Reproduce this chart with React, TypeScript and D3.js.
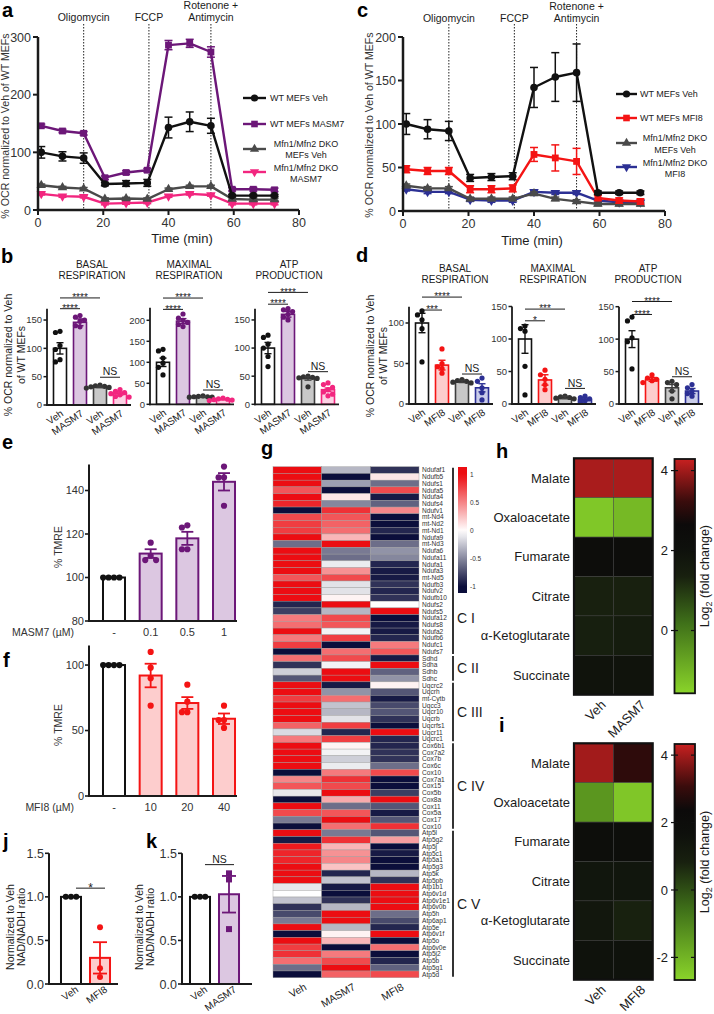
import React from 'react';
import * as d3 from 'd3';

const FONT = "'Liberation Sans', Arial, Helvetica, sans-serif";
const INK = '#1b1b1b';

const BLACK = '#111111';
const PURPLE = '#6c1778';
const PURPLE_FILL = '#dcc7e1';
const PINK = '#f2267f';
const PINK_FILL = '#fcd2e4';
const DGRAY = '#3e3e3e';
const GRAY_FILL = '#c8c8c8';
const RED = '#f41414';
const RED_FILL = '#fdcdcd';
const BLUE = '#2c3094';
const BLUE_FILL = '#cacdea';

/* ---------------- a / c : OCR time courses ---------------- */
const TIMES = [1, 7.5, 14, 20.5, 27, 33.5, 40, 46.5, 53, 59.5, 66, 72.5];
const INJECTIONS = [14, 34, 53];
const INJECTION_LABELS = [['Oligomycin'], ['FCCP'], ['Rotenone +', 'Antimycin']];
const TIME_TICKS = [0, 20, 40, 60, 80];

const A_WT_VEH = [100, 93, 90, 45, 46, 47, 143, 153, 146, 25, 25, 25];
const A_WT_VEH_ERR = [10, 8, 9, 3, 5, 6, 18, 17, 13, 2, 2, 2];
const A_WT_MASM7 = [146, 137, 133, 56, 65, 69, 286, 289, 274, 36, 36, 35];
const A_WT_MASM7_ERR = [3, 3, 3, 3, 3, 3, 8, 7, 9, 3, 3, 3];
const A_DKO_VEH = [43, 39, 37, 19, 20, 19, 36, 41, 41, 19, 18, 18];
const A_DKO_VEH_ERR = [2, 2, 2, 2, 2, 2, 2, 2, 2, 2, 2, 2];
const A_DKO_MASM7 = [28, 24, 23, 11, 12, 13, 24, 28, 26, 11, 11, 11];
const A_DKO_MASM7_ERR = [2, 2, 2, 2, 2, 2, 2, 2, 2, 2, 2, 2];
const A_Y_TICKS = [0, 100, 200, 300];
const A_LEGEND = [['WT MEFs Veh'], ['WT MEFs MASM7'], ['Mfn1/Mfn2 DKO', 'MEFs Veh'], ['Mfn1/Mfn2 DKO', 'MASM7']];

const C_WT_VEH = [100, 94, 92, 38, 39, 40, 142, 154, 159, 21, 21, 21];
const C_WT_VEH_ERR = [12, 11, 11, 4, 4, 4, 23, 28, 33, 2, 2, 2];
const C_WT_MFI8 = [48, 46, 46, 25, 25, 26, 65, 61, 57, 15, 12, 11];
const C_WT_MFI8_ERR = [4, 4, 4, 4, 4, 4, 8, 15, 15, 3, 3, 3];
const C_DKO_VEH = [29, 26, 26, 14, 14, 14, 20, 14, 11, 8, 8, 8];
const C_DKO_VEH_ERR = [2, 2, 2, 2, 2, 2, 2, 2, 2, 2, 2, 2];
const C_DKO_MFI8 = [25, 22, 22, 13, 12, 12, 22, 21, 21, 12, 10, 10];
const C_DKO_MFI8_ERR = [2, 2, 2, 2, 2, 2, 2, 2, 2, 2, 2, 2];
const C_Y_TICKS = [0, 50, 100, 150, 200];
const C_LEGEND = [['WT MEFs Veh'], ['WT MEFs MFI8'], ['Mfn1/Mfn2 DKO', 'MEFs Veh'], ['Mfn1/Mfn2 DKO', 'MFI8']];

/* ---------------- b / d : respiration bars ---------------- */
const MASM7_GROUPS = ['Veh', 'MASM7', 'Veh', 'MASM7'];
const MFI8_GROUPS = ['Veh', 'MFI8', 'Veh', 'MFI8'];
const RESP_TITLES = [['BASAL', 'RESPIRATION'], ['MAXIMAL', 'RESPIRATION'], ['ATP', 'PRODUCTION']];

const B_BASAL_MEAN = [100, 146, 32, 20];
const B_BASAL_SEM = [10, 6, 1.5, 2.5];
const B_BASAL_DOTS = [[130, 128, 105, 98, 80, 76], [158, 155, 150, 148, 140, 138], [35, 34, 33, 32, 31, 30], [27, 24, 22, 20, 18, 15, 14]];
const B_MAX_MEAN = [100, 198, 18, 12];
const B_MAX_SEM = [10, 6, 1, 1.5];
const B_MAX_DOTS = [[131, 127, 110, 98, 88, 70], [215, 205, 200, 195, 190, 185], [20, 19, 18, 18, 17, 17], [15, 13, 12, 11, 10, 9]];
const B_ATP_MEAN = [100, 160, 46, 26];
const B_ATP_SEM = [10, 5, 3, 3];
const B_ATP_DOTS = [[123, 119, 107, 100, 85, 67], [170, 168, 165, 160, 155, 150], [50, 49, 48, 47, 46, 31], [38, 35, 30, 26, 22, 18, 15]];
const B_BASAL_SIG = [{ a: 0, b: 1, h: 170, t: '****' }, { a: 0, b: 2, h: 189, t: '****' }, { a: 2, b: 3, h: 49, t: 'NS' }];
const B_MAX_SIG = [{ a: 0, b: 1, h: 226, t: '****' }, { a: 0, b: 2, h: 253, t: '****' }, { a: 2, b: 3, h: 34, t: 'NS' }];
const B_ATP_SIG = [{ a: 0, b: 1, h: 178, t: '****' }, { a: 0, b: 2, h: 199, t: '****' }, { a: 2, b: 3, h: 58, t: 'NS' }];

const D_BASAL_MEAN = [100, 48, 28, 20];
const D_BASAL_SEM = [12, 6, 1.5, 5];
const D_BASAL_DOTS = [[115, 110, 104, 93, 52], [68, 50, 46, 44, 38], [30, 29, 28, 27, 26], [32, 28, 20, 14, 5]];
const D_MAX_MEAN = [100, 37, 10, 7];
const D_MAX_SEM = [22, 8, 2, 2];
const D_MAX_DOTS = [[120, 116, 112, 58, 14], [52, 45, 38, 30, 22], [12, 11, 10, 9, 8], [12, 10, 8, 5, 3]];
const D_ATP_MEAN = [100, 38, 25, 20];
const D_ATP_SEM = [13, 3, 5, 4];
const D_ATP_DOTS = [[134, 128, 102, 96, 54], [45, 40, 38, 36, 33], [35, 33, 30, 20, 8], [30, 25, 20, 16, 12]];
const D_BASAL_SIG = [{ a: 0, b: 1, h: 116, t: '***' }, { a: 0, b: 2, h: 132, t: '****' }, { a: 2, b: 3, h: 37, t: 'NS' }];
const D_MAX_SIG = [{ a: 0, b: 1, h: 128, t: '*' }, { a: 0, b: 2, h: 146, t: '***' }, { a: 2, b: 3, h: 24, t: 'NS' }];
const D_ATP_SIG = [{ a: 0, b: 1, h: 138, t: '****' }, { a: 0, b: 2, h: 158, t: '****' }, { a: 2, b: 3, h: 42, t: 'NS' }];

/* ---------------- e / f : TMRE ---------------- */
const E_DOSES = ['-', '0.1', '0.5', '1'];
const E_MEAN = [100, 111, 118, 144];
const E_SEM = [0, 2, 3, 4];
const E_DOTS = [[100, 100, 100, 100], [116, 110, 108, 108], [124, 123, 113, 113], [151, 146, 146, 133]];
const E_TICKS = [80, 100, 120, 140];
const F_DOSES = ['-', '10', '20', '40'];
const F_MEAN = [100, 92, 71, 59];
const F_SEM = [0, 9, 4.5, 4];
const F_DOTS = [[100, 100, 100, 100], [110, 98, 90, 69], [85, 72, 64, 64], [69, 58, 58, 52]];
const F_TICKS = [0, 50, 100];

/* ---------------- j / k : NAD/NADH ---------------- */
const J_GROUPS = ['Veh', 'MFI8'];
const J_MEAN = [1.0, 0.3];
const J_SEM = [0, 0.18];
const J_DOTS = [[1, 1, 1], [0.65, 0.18, 0.08]];
const K_GROUPS = ['Veh', 'MASM7'];
const K_MEAN = [1.0, 1.03];
const K_SEM = [0, 0.21];
const K_DOTS = [[1, 1, 1], [1.27, 1.2, 0.63]];
const NAD_TICKS = [0, 0.5, 1.0, 1.5];

/* ---------------- g : gene heatmap ---------------- */
const HEAT_COLS = ['Veh', 'MASM7', 'MFI8'];
const GENES = ['Ndufaf1', 'Ndufb5', 'Ndufs1', 'Ndufa5', 'Ndufa4', 'Ndufs4', 'Ndufv1', 'mt-Nd4', 'mt-Nd2', 'mt-Nd1', 'Ndufa9', 'mt-Nd3', 'Ndufa6', 'Ndufa11', 'Ndufa1', 'Ndufa3', 'mt-Nd5', 'Ndufb3', 'Ndufv2', 'Ndufb10', 'Ndufs2', 'Ndufs5', 'Ndufa12', 'Ndufs8', 'Ndufa2', 'Ndufb6', 'Ndufc1', 'Ndufs7',
  'Sdhd', 'Sdha', 'Sdhb', 'Sdhc',
  'Uqcrc2', 'Uqcrh', 'mt-Cytb', 'Uqcc3', 'Uqcr10', 'Uqcrb', 'Uqcrfs1', 'Uqcr11', 'Uqcrc1',
  'Cox6b1', 'Cox7a2', 'Cox7b', 'Cox6c', 'Cox10', 'Cox7a1', 'Cox15', 'Cox5b', 'Cox8a', 'Cox11', 'Cox5a', 'Cox17', 'Cox10',
  'Atp5l', 'Atp5g2', 'Atp5j', 'Atp5c1', 'Atp5a1', 'Atp5g3', 'Atp5k', 'Atp5pb', 'Atp1b1', 'Atp6v1d', 'Atp6v1e1', 'Atp6v0b', 'Atp5h', 'Atp6ap1', 'Atp5e', 'Atp6v1f', 'Atp5o', 'Atp6v0e', 'Atp5j2', 'Atp5b', 'Atp5g1', 'Atp5d'];
const COMPLEX_NAMES = ['C I', 'C II', 'C III', 'C IV', 'C V'];
const COMPLEX_SIZES = [28, 4, 9, 13, 22];
const HEAT_VEH = [1, 1, 1, 0.7, 1, 0.9, -1, 0.75, 0.8, 0.8, 1, -0.6, 1,
  1, 1, 1, 0.7, 1, 1, 1, -0.9, -0.8, 0.55, 0.6, 1, 0.55, 0.8, -1, 0.6, -0.85, -0.2, -0.7, 1, 1, 0.8, 1, 1, 1, 0.65, -0.15, 0.55, 1, 1, 1, 1, -1, 0.5,
  0.7, -0.1, -1, 1, 0.75, -0.55, -1, 1, -0.95, 0.95, 0.9, 0.9, 1, 1, 1, -0.1, 0, -0.25, -0.85, -0.75, -0.55, 1, -1, 1, 0.8, 0.85, 0.6, -0.6, -1];
const HEAT_MASM7 = [-0.3, -1, -0.4, -1, 0.1, -0.5, 0.85, 0.7, 0.65, 0.6, 0.3, 1, -0.55,
  -0.6, -0.08, 0.45, 0.75, -0.12, -0.12, 0.05, 1, -0.3, 0.75, 0.7, -0.05, 0.8, -1, 0.6, 0.75, -0.05, 1, 1, -0.95, -0.45, 0.6, -0.25, -0.3, -0.12, 0.8, -0.9, 0.8, 0.05, -0.05, -0.2, -0.08, 0.55, 0.85,
  0.75, 1, 0.35, -0.6, 0.7, 1, 0.6, -0.55, 0.85, 0.3, 0.45, 0.5, 0.25, -0.9, -0.25, -0.95, -1, -0.85, -0.3, 1, 1, -0.3, 0.05, 0.3, -1, 0.55, 0.75, 1, 0.65];
const HEAT_MFI8 = [-0.85, 0.1, -0.6, 0.75, -0.95, -0.65, 0.5, -1, -1, -0.9, -1, -0.6, -0.45,
  -0.5, -0.9, -0.95, -0.95, -0.85, -0.9, -0.85, 0, 1, -1, -0.95, -0.95, -0.9, 0.55, 0.7, -0.95, 1, -0.65, -0.45, 0.05, -0.7, -0.95, -0.75, -0.7, -0.85, -1, 1, -0.9, -0.9, -0.85, -0.85, -0.6, 0.75, -1,
  -1, -0.8, 1, -0.7, -0.95, -0.7, 0.85, -0.7, 0.4, -1, -0.95, -1, -1, -0.3, -0.85, 1, 1, 1, 1, -0.6, -0.75, -0.9, 1, -1, 0.6, -1, -0.9, -0.65, 0.75];
const G_TICKS = [1, 0.5, 0, -0.5, -1];

/* ---------------- h / i : metabolites (log2 fold change) ---------------- */
const METABOLITES = ['Malate', 'Oxaloacetate', 'Fumarate', 'Citrate', 'α-Ketoglutarate', 'Succinate'];
const H_COLS = ['Veh', 'MASM7'];
const H_VEH = [4.06, -1.34, 2.4, 1.36, 1.42, 1.95];
const H_MASM7 = [4.06, -1.1, 2.4, 1.36, 1.54, 1.95];
const I_COLS = ['Veh', 'MFI8'];
const I_VEH = [3.99, -1.36, 1.87, 1.38, 1.3, 1.59];
const I_MFI8 = [2.89, -2.38, 1.87, 1.38, 0.82, 1.59];
const H_TICKS = [0, 2, 4];
const I_TICKS = [-2, 0, 2, 4];
const METAB_T = [0, 0.3, 0.5, 0.62, 0.72, 0.82, 1];
const METAB_C = ['#8ad42a', '#3f7019', '#18200f', '#0e100c', '#0c0a0a', '#3a0c0c', '#c82020'];

/* ================= helpers ================= */
function Marker({ shape, x, y, color, s }: any) {
  if (shape === 'circle') return <circle cx={x} cy={y} r={s} fill={color} />;
  if (shape === 'square') return <rect x={x - s} y={y - s} width={2 * s} height={2 * s} fill={color} />;
  const p = d3.symbol().type(d3.symbolTriangle).size(s * s * 3.4)() as string;
  return <path d={p} transform={`translate(${x},${y}) rotate(${shape === 'triDown' ? 180 : 0})`} fill={color} />;
}

function ErrBar({ x, v, e, y, w, color, sw }: any) {
  if (!e) return null;
  const t = y(v + e), b = y(v - e);
  return (
    <g stroke={color} strokeWidth={sw}>
      <line x1={x} x2={x} y1={t} y2={b} />
      <line x1={x - w / 2} x2={x + w / 2} y1={t} y2={t} />
      <line x1={x - w / 2} x2={x + w / 2} y1={b} y2={b} />
    </g>
  );
}

function swarm(py: number[], r: number): number[] {
  const placed: [number, number][] = [];
  const step = r * 1.75;
  const cands = [0];
  for (let k = 1; k < 10; k++) cands.push(-k * step, k * step);
  return py.map((yy) => {
    for (const c of cands) {
      if (placed.every(([px, pyy]) => Math.hypot(px - c, pyy - yy) >= step)) {
        placed.push([c, yy]);
        return c;
      }
    }
    return 0;
  });
}

function RotLabel({ x, y, lines, size, gap, anchor = 'middle' }: any) {
  return (
    <g>
      {lines.map((l: string, i: number) => (
        <text key={i} transform={`translate(${x + i * gap},${y}) rotate(-90)`} textAnchor={anchor} fontSize={size} fill={INK}>{l}</text>
      ))}
    </g>
  );
}

/* ================= a / c ================= */
function OcrPanel({ P, series }: any) {
  const x = d3.scaleLinear().domain([0, 80]).range([P.x0, P.x1]);
  const y = d3.scaleLinear().domain([0, P.yMax]).range([P.y0, P.yTop]);
  const line = d3.line<number>().x((_, i) => x(TIMES[i])).y((v) => y(v));
  const y0 = y(0);
  return (
    <g>
      {INJECTIONS.map((t, i) => (
        <g key={i}>
          <line x1={x(t)} x2={x(t)} y1={24} y2={y0} stroke="#222" strokeWidth={1} strokeDasharray="1.5,1.5" />
          {INJECTION_LABELS[i].map((s, j, arr) => (
            <text key={j} x={x(t)} y={P.labelBase - (arr.length - 1 - j) * 12} textAnchor="middle" fontSize={10.5} fill={INK}>{s}</text>
          ))}
        </g>
      ))}
      {[...series].reverse().map((s: any, k: number) => (
        <g key={k}>
          <path d={line(s.values) as string} fill="none" stroke={s.color} strokeWidth={2.4} strokeLinejoin="round" />
          {s.values.map((v: number, i: number) => (
            <ErrBar key={i} x={x(TIMES[i])} v={v} e={s.errs[i]} y={y} w={8} color={s.color} sw={1.5} />
          ))}
          {s.values.map((v: number, i: number) => (
            <Marker key={'m' + i} shape={s.shape} x={x(TIMES[i])} y={y(v)} color={s.color} s={s.shape === 'circle' ? 3.8 : 3.4} />
          ))}
        </g>
      ))}
      {/* axes */}
      <line x1={x(0)} x2={x(0)} y1={y0 + 1.2} y2={y(P.yMax)} stroke={INK} strokeWidth={2.5} />
      <line x1={x(0) - 1.2} x2={x(80)} y1={y0} y2={y0} stroke={INK} strokeWidth={2.5} />
      {P.yTicks.map((t: number) => (
        <g key={t}>
          <line x1={x(0) - 5} x2={x(0)} y1={y(t)} y2={y(t)} stroke={INK} strokeWidth={2} />
          <text x={x(0) - 7} y={y(t)} dy="0.36em" textAnchor="end" fontSize={12.5} fill="#333">{t}</text>
        </g>
      ))}
      {TIME_TICKS.map((t) => (
        <g key={t}>
          <line x1={x(t)} x2={x(t)} y1={y0} y2={y0 + 5} stroke={INK} strokeWidth={2} />
          <text x={x(t)} y={y0 + 16.5} textAnchor="middle" fontSize={12.5} fill="#333">{t}</text>
        </g>
      ))}
      <text x={P.timeX} y={P.timeY} textAnchor="middle" fontSize={13} fill={INK}>Time (min)</text>
      <text transform={`translate(${P.ylabX},${P.ylabY}) rotate(-90)`} textAnchor="middle" fontSize={10.6} fill="#333">% OCR normalized to Veh of WT MEFs</text>
      {/* legend */}
      {series.map((s: any, k: number) => (
        <g key={'l' + k}>
          <line x1={P.lx0} x2={P.lx1} y1={P.lys[k]} y2={P.lys[k]} stroke={s.color} strokeWidth={2.4} />
          <Marker shape={s.shape} x={(P.lx0 + P.lx1) / 2} y={P.lys[k]} color={s.color} s={s.shape === 'circle' ? 3.6 : 3.3} />
          {s.legend.length === 1 ? (
            <text x={P.ltx} y={P.lys[k]} dy="0.35em" fontSize={9} fill={INK}>{s.legend[0]}</text>
          ) : (
            s.legend.map((tx: string, j: number) => (
              <text key={j} x={P.lcx} y={P.ltys[k][j]} dy="0.35em" textAnchor="middle" fontSize={9} fill={INK}>{tx}</text>
            ))
          )}
        </g>
      ))}
    </g>
  );
}

/* ================= b / d ================= */
function BarSub({ L, means, sems, dots, groups, sigs, styles, title }: any) {
  const y = d3.scaleLinear().domain([0, L.yTop]).range([L.y0, L.yTopPx]);
  const xb = d3.scaleBand<number>().domain(d3.range(means.length)).range([L.axisX + 3, L.axisX + 83]).paddingInner(0.35).paddingOuter(0.175);
  const cx = (i: number) => (xb(i) as number) + xb.bandwidth() / 2;
  const r = 2.6;
  return (
    <g>
      {title.map((t: string, i: number) => (
        <text key={i} x={L.titleX} y={L.titleY + i * 11.5} textAnchor="middle" fontSize={10} fill={INK}>{t}</text>
      ))}
      {means.map((m: number, i: number) => (
        <rect key={i} x={xb(i)} y={y(m)} width={xb.bandwidth()} height={L.y0 - y(m)} fill={styles[i].fill} stroke={styles[i].stroke} strokeWidth={1.6} />
      ))}
      {dots.map((ds: number[], i: number) => {
        const offs = swarm(ds.map((d) => y(d)), r);
        return ds.map((d, j) => <circle key={i + '-' + j} cx={cx(i) + offs[j]} cy={y(d)} r={r} fill={styles[i].dot} />);
      })}
      {means.map((m: number, i: number) => (
        <ErrBar key={'e' + i} x={cx(i)} v={m} e={sems[i]} y={y} w={7} color={styles[i].stroke} sw={1.4} />
      ))}
      <line x1={L.axisX} x2={L.axisX} y1={L.y0 + 0.9} y2={L.yTopPx} stroke={INK} strokeWidth={1.8} />
      <line x1={L.axisX - 0.9} x2={L.axisX + 84} y1={L.y0} y2={L.y0} stroke={INK} strokeWidth={1.8} />
      {L.ticks.map((t: number) => (
        <g key={t}>
          <line x1={L.axisX - 3.5} x2={L.axisX} y1={y(t)} y2={y(t)} stroke={INK} strokeWidth={1.5} />
          <text x={L.axisX - 5} y={y(t)} dy="0.36em" textAnchor="end" fontSize={9.5} fill="#333">{t}</text>
        </g>
      ))}
      {groups.map((g: string, i: number) => (
        <text key={'g' + i} transform={`translate(${cx(i) + 4},${L.y0 + 10}) rotate(-35)`} textAnchor="end" fontSize={10} fill={INK}>{g}</text>
      ))}
      {sigs.map((s: any, i: number) => {
        const ly = y(s.h);
        const xa = cx(s.a), xc = cx(s.b);
        return (
          <g key={'s' + i}>
            <line x1={xa} x2={xc} y1={ly} y2={ly} stroke={INK} strokeWidth={1} />
            <text x={(xa + xc) / 2} y={s.t === 'NS' ? ly - 1.8 : ly + 3.2} textAnchor="middle" fontSize={s.t === 'NS' ? 10.5 : 10} fill={INK}>{s.t}</text>
          </g>
        );
      })}
    </g>
  );
}

/* ================= e / f ================= */
function DosePanel({ L, means, sems, dots, doses, ticks, color, fill, title }: any) {
  const y = d3.scaleLinear().domain([L.yMin, L.yTop]).range([L.y0, L.yTopPx]);
  const xb = d3.scaleBand<number>().domain(d3.range(means.length)).range([L.axisX + 2, L.axisX + 158]).paddingInner(0.4).paddingOuter(0.327);
  const cx = (i: number) => (xb(i) as number) + xb.bandwidth() / 2;
  const r = 3.1;
  const st = (i: number) => (i === 0 ? BLACK : color);
  return (
    <g>
      {means.map((m: number, i: number) => (
        <rect key={i} x={xb(i)} y={y(m)} width={xb.bandwidth()} height={L.y0 - y(m)} fill={i === 0 ? '#fff' : fill} stroke={st(i)} strokeWidth={2} />
      ))}
      {dots.map((ds: number[], i: number) => {
        const offs = swarm(ds.map((d) => y(d)), r);
        return ds.map((d, j) => <circle key={i + '-' + j} cx={cx(i) + offs[j]} cy={y(d)} r={r} fill={st(i)} />);
      })}
      {means.map((m: number, i: number) => (
        <ErrBar key={'e' + i} x={cx(i)} v={m} e={sems[i]} y={y} w={12} color={st(i)} sw={1.8} />
      ))}
      <line x1={L.axisX} x2={L.axisX} y1={L.y0 + 1} y2={L.yTopPx} stroke={INK} strokeWidth={2} />
      <line x1={L.axisX - 1} x2={L.xEnd} y1={L.y0} y2={L.y0} stroke={INK} strokeWidth={2} />
      {ticks.map((t: number) => (
        <g key={t}>
          <line x1={L.axisX - 4} x2={L.axisX} y1={y(t)} y2={y(t)} stroke={INK} strokeWidth={1.6} />
          <text x={L.axisX - 5} y={y(t)} dy="0.36em" textAnchor="end" fontSize={11} fill="#333">{t}</text>
        </g>
      ))}
      {doses.map((d: string, i: number) => (
        <text key={'d' + i} x={cx(i)} y={L.labY} textAnchor="middle" fontSize={11} fill="#333">{d}</text>
      ))}
      <text x={74} y={L.labY} textAnchor="end" fontSize={10.5} fill="#333">{title}</text>
      <text transform={`translate(62,${L.ylabY}) rotate(-90)`} textAnchor="middle" fontSize={10.5} fill="#333">% TMRE</text>
    </g>
  );
}

/* ================= j / k ================= */
function NadPanel({ L, means, sems, dots, groups, color, fill, shape, sig }: any) {
  const y = d3.scaleLinear().domain([0, 1.5]).range([L.y0, L.yTopPx]);
  const xb = d3.scaleBand<number>().domain(d3.range(means.length)).range([L.axisX + L.b0, L.axisX + L.b0 + 67]).paddingInner(0.31).paddingOuter(0.31);
  const cx = (i: number) => (xb(i) as number) + xb.bandwidth() / 2;
  const st = (i: number) => (i === 0 ? BLACK : color);
  const r = 3;
  return (
    <g>
      {means.map((m: number, i: number) => (
        <rect key={i} x={xb(i)} y={y(m)} width={xb.bandwidth()} height={L.y0 - y(m)} fill={i === 0 ? '#fff' : fill} stroke={st(i)} strokeWidth={2} />
      ))}
      {dots.map((ds: number[], i: number) => {
        const offs = swarm(ds.map((d) => y(d)), r);
        return ds.map((d, j) => (
          <Marker key={i + '-' + j} shape={i === 0 ? 'circle' : shape} x={cx(i) + offs[j]} y={y(d)} color={st(i)} s={r} />
        ));
      })}
      {means.map((m: number, i: number) => (
        <ErrBar key={'e' + i} x={cx(i)} v={m} e={sems[i]} y={y} w={14} color={st(i)} sw={1.8} />
      ))}
      <line x1={L.axisX} x2={L.axisX} y1={L.y0 + 1} y2={L.yTopPx} stroke={INK} strokeWidth={2} />
      <line x1={L.axisX - 1} x2={L.xEnd} y1={L.y0} y2={L.y0} stroke={INK} strokeWidth={2} />
      {NAD_TICKS.map((t) => (
        <g key={t}>
          <line x1={L.axisX - 4} x2={L.axisX} y1={y(t)} y2={y(t)} stroke={INK} strokeWidth={1.6} />
          <text x={L.axisX - 5} y={y(t)} dy="0.36em" textAnchor="end" fontSize={12.5} fill="#333">{d3.format('.1f')(t)}</text>
        </g>
      ))}
      {groups.map((g: string, i: number) => (
        <text key={'g' + i} transform={`translate(${cx(i) + 8},${L.y0 + 7}) rotate(-35)`} textAnchor="end" fontSize={10} fill={INK}>{g}</text>
      ))}
      {(() => {
        const ly = y(sig.h), xa = cx(0), xc = cx(1);
        return (
          <g>
            <line x1={xa + 5} x2={xc + 5} y1={ly} y2={ly} stroke={INK} strokeWidth={1} />
            <text x={(xa + xc) / 2 + 5} y={sig.t === 'NS' ? ly - 2 : ly + 3.5} textAnchor="middle" fontSize={sig.t === 'NS' ? 10.5 : 12} fill={INK}>{sig.t}</text>
          </g>
        );
      })()}
      <RotLabel x={L.ylx} y={927} lines={['Normalized to Veh', 'NAD/NADH ratio']} size={10.5} gap={11.5} />
    </g>
  );
}

/* ================= g ================= */
function GeneHeatmap() {
  const data = [HEAT_VEH, HEAT_MASM7, HEAT_MFI8];
  const xb = d3.scaleBand<string>().domain(HEAT_COLS).range([273, 419]);
  const yb = d3.scaleBand<number>().domain(d3.range(GENES.length)).range([466.7, 977.7]);
  const pos = d3.interpolateRgb('#ffffff', '#ec0d12');
  const neg = d3.interpolateRgb('#ffffff', '#0b0e3b');
  const color = (v: number) => (v >= 0 ? pos(Math.min(v, 1)) : neg(Math.min(-v, 1)));
  const cb = d3.scaleLinear().domain([1, -1]).range([475, 586.7]);
  const cbTop = 467, cbBot = 593;
  const stops = d3.range(0, 1.0001, 0.05).map((o) => ({ o, c: color(Math.max(-1, Math.min(1, cb.invert(cbTop + o * (cbBot - cbTop))))) }));
  const starts = COMPLEX_SIZES.map((_, i) => d3.sum(COMPLEX_SIZES.slice(0, i)));
  return (
    <g>
      <defs>
        <linearGradient id="gcb" x1="0" y1="0" x2="0" y2="1">
          {stops.map((s, i) => <stop key={i} offset={s.o} stopColor={s.c} />)}
        </linearGradient>
      </defs>
      {HEAT_COLS.map((c, ci) =>
        GENES.map((g, ri) => (
          <rect key={c + ri} x={xb(c)} y={yb(ri)} width={xb.bandwidth()} height={yb.bandwidth()} fill={color(data[ci][ri])} stroke="#9a9a9a" strokeWidth={0.4} />
        ))
      )}
      {GENES.map((g, ri) => (
        <text key={'t' + ri} x={422} y={(yb(ri) as number) + yb.bandwidth() / 2} dy="0.35em" fontSize={6.6} fill="#333">{g}</text>
      ))}
      {HEAT_COLS.map((c) => (
        <text key={'c' + c} transform={`translate(${(xb(c) as number) + xb.bandwidth() / 2 + 10},989) rotate(-30)`} textAnchor="end" fontSize={10.5} fill={INK}>{c}</text>
      ))}
      <rect x={458} y={cbTop} width={9} height={cbBot - cbTop} fill="url(#gcb)" />
      {G_TICKS.map((t) => (
        <text key={'k' + t} x={470} y={cb(t)} dy="0.35em" fontSize={6.5} fill="#333">{t}</text>
      ))}
      {COMPLEX_NAMES.map((n, i) => {
        const a = yb(starts[i]) as number;
        const b = (yb(starts[i] + COMPLEX_SIZES[i] - 1) as number) + yb.bandwidth();
        const mid = i === 0 ? cbBot + 25 : (a + b) / 2;
        return (
          <g key={n}>
            <line x1={453} x2={453} y1={a + 1} y2={b - 1} stroke="#333" strokeWidth={2} />
            <text x={457} y={mid} dy="0.36em" fontSize={14} fill={INK}>{n}</text>
          </g>
        );
      })}
    </g>
  );
}

/* ================= h / i ================= */
function MetabPanel({ id, top, cbTop, cbBot, vMin, vMax, ticks, cols, vals }: any) {
  const ramp = d3.scaleLinear<string>().domain(METAB_T).range(METAB_C).interpolate(d3.interpolateRgb);
  const tt = d3.scaleLinear().domain([vMin, vMax]).range([0, 1]).clamp(true);
  const xb = d3.scaleBand<string>().domain(cols).range([574, 652.7]);
  const yb = d3.scaleBand<string>().domain(METABOLITES).range([top, top + 236.4]);
  const cby = d3.scaleLinear().domain([vMin, vMax]).range([cbBot, cbTop]);
  const bottom = top + 236.4;
  return (
    <g>
      <defs>
        <linearGradient id={id} x1="0" y1="1" x2="0" y2="0">
          {METAB_T.map((t, i) => <stop key={i} offset={t} stopColor={METAB_C[i]} />)}
        </linearGradient>
      </defs>
      {cols.map((c: string, ci: number) =>
        METABOLITES.map((m, ri) => (
          <rect key={c + m} x={xb(c)} y={yb(m)} width={xb.bandwidth()} height={yb.bandwidth()} fill={ramp(tt(vals[ci][ri]))} stroke="#3a3a3a" strokeWidth={0.5} />
        ))
      )}
      <rect x={574} y={top} width={652.7 - 574} height={236.4} fill="none" stroke="#111" strokeWidth={2.2} />
      {METABOLITES.map((m) => (
        <text key={m} x={570} y={(yb(m) as number) + yb.bandwidth() / 2} dy="0.36em" textAnchor="end" fontSize={13} fill={INK}>{m}</text>
      ))}
      {cols.map((c: string) => (
        <text key={'c' + c} transform={`translate(${(xb(c) as number) + xb.bandwidth() / 2 + 13},${bottom + 11}) rotate(-45)`} textAnchor="end" fontSize={13} fill={INK}>{c}</text>
      ))}
      <rect x={674.5} y={cbTop} width={20.5} height={cbBot - cbTop} fill={`url(#${id})`} stroke="#111" strokeWidth={1.8} />
      {ticks.map((t: number) => (
        <g key={t}>
          <line x1={671} x2={678} y1={cby(t)} y2={cby(t)} stroke="#111" strokeWidth={1.2} />
          <line x1={691} x2={695} y1={cby(t)} y2={cby(t)} stroke="#111" strokeWidth={1.2} />
          <text x={668} y={cby(t)} dy="0.36em" textAnchor="end" fontSize={13} fill={INK}>{t}</text>
        </g>
      ))}
      <text transform={`translate(708.5,${(cbTop + cbBot) / 2}) rotate(-90)`} textAnchor="middle" fontSize={12.5} fill={INK}>
        Log<tspan dy="3" fontSize="9">2</tspan><tspan dy="-3"> (fold change)</tspan>
      </text>
    </g>
  );
}

/* ================= App ================= */
export default function App() {
  const aSeries = [
    { values: A_WT_VEH, errs: A_WT_VEH_ERR, color: BLACK, shape: 'circle', legend: A_LEGEND[0] },
    { values: A_WT_MASM7, errs: A_WT_MASM7_ERR, color: PURPLE, shape: 'square', legend: A_LEGEND[1] },
    { values: A_DKO_VEH, errs: A_DKO_VEH_ERR, color: '#4a4a4a', shape: 'triUp', legend: A_LEGEND[2] },
    { values: A_DKO_MASM7, errs: A_DKO_MASM7_ERR, color: PINK, shape: 'triDown', legend: A_LEGEND[3] },
  ];
  const cSeries = [
    { values: C_WT_VEH, errs: C_WT_VEH_ERR, color: BLACK, shape: 'circle', legend: C_LEGEND[0] },
    { values: C_WT_MFI8, errs: C_WT_MFI8_ERR, color: RED, shape: 'square', legend: C_LEGEND[1] },
    { values: C_DKO_VEH, errs: C_DKO_VEH_ERR, color: '#4a4a4a', shape: 'triUp', legend: C_LEGEND[2] },
    { values: C_DKO_MFI8, errs: C_DKO_MFI8_ERR, color: BLUE, shape: 'triDown', legend: C_LEGEND[3] },
  ];
  const PA = { x0: 38, x1: 299, y0: 210, yTop: 37, yMax: 300, yTicks: A_Y_TICKS, labelBase: 20.5, timeX: 182, timeY: 242.5, ylabX: 8.5, ylabY: 126,
    lx0: 243, lx1: 266, ltx: 270, lcx: 306, lys: [98, 124, 149, 172], ltys: [[98], [124], [144, 154.5], [168, 179]] };
  const PC = { x0: 403, x1: 665, y0: 211, yTop: 37, yMax: 200, yTicks: C_Y_TICKS, labelBase: 22, timeX: 532, timeY: 244.5, ylabX: 372.5, ylabY: 125,
    lx0: 616, lx1: 637, ltx: 640, lcx: 675, lys: [94, 118, 143, 167], ltys: [[94], [118], [138, 150], [162.5, 174]] };

  const bStyles = [
    { stroke: BLACK, fill: '#ffffff', dot: BLACK },
    { stroke: PURPLE, fill: PURPLE_FILL, dot: PURPLE },
    { stroke: DGRAY, fill: GRAY_FILL, dot: '#333' },
    { stroke: PINK, fill: PINK_FILL, dot: PINK },
  ];
  const dStyles = [
    { stroke: BLACK, fill: '#ffffff', dot: BLACK },
    { stroke: RED, fill: RED_FILL, dot: RED },
    { stroke: DGRAY, fill: GRAY_FILL, dot: '#333' },
    { stroke: BLUE, fill: BLUE_FILL, dot: BLUE },
  ];
  const LB = [
    { axisX: 47, y0: 405, yTop: 170, yTopPx: 308.7, ticks: [0, 50, 100, 150], titleX: 92, titleY: 267.5 },
    { axisX: 150, y0: 404.3, yTop: 230, yTopPx: 307.7, ticks: [0, 50, 100, 150, 200], titleX: 189, titleY: 267.5 },
    { axisX: 255, y0: 404.3, yTop: 170, yTopPx: 308.7, ticks: [0, 50, 100, 150], titleX: 289, titleY: 267.5 },
  ];
  const LD = [
    { axisX: 409, y0: 404, yTop: 120, yTopPx: 306.8, ticks: [0, 50, 100], titleX: 455, titleY: 271.5 },
    { axisX: 512, y0: 404, yTop: 150, yTopPx: 306.5, ticks: [0, 50, 100, 150], titleX: 553, titleY: 271.5 },
    { axisX: 619, y0: 404, yTop: 150, yTopPx: 306.7, ticks: [0, 50, 100, 150], titleX: 648, titleY: 271.5 },
  ];
  const letters: [string, number, number][] = [
    ['a', 2, 17], ['c', 357, 17], ['b', 1, 263], ['d', 356, 262], ['e', 2, 449], ['f', 3, 667],
    ['g', 261, 455], ['h', 496, 458], ['i', 499, 732], ['j', 3, 848], ['k', 146, 848],
  ];

  return (
    <div style={{ position: 'absolute', left: 0, top: 0, width: 714, height: 1014, background: '#fff', overflow: 'hidden' }}>
      <svg width={714} height={1014} fontFamily={FONT} style={{ display: 'block' }}>
        <rect width={714} height={1014} fill="#fff" />
        {letters.map(([l, x, y]) => (
          <text key={l} x={x} y={y} fontSize={20} fontWeight="bold" fill="#000">{l}</text>
        ))}
        <OcrPanel P={PA} series={aSeries} />
        <OcrPanel P={PC} series={cSeries} />

        <RotLabel x={12} y={355} lines={['% OCR normalized to Veh', 'of WT MEFs']} size={10.5} gap={12.5} />
        <BarSub L={LB[0]} means={B_BASAL_MEAN} sems={B_BASAL_SEM} dots={B_BASAL_DOTS} groups={MASM7_GROUPS} sigs={B_BASAL_SIG} styles={bStyles} title={RESP_TITLES[0]} />
        <BarSub L={LB[1]} means={B_MAX_MEAN} sems={B_MAX_SEM} dots={B_MAX_DOTS} groups={MASM7_GROUPS} sigs={B_MAX_SIG} styles={bStyles} title={RESP_TITLES[1]} />
        <BarSub L={LB[2]} means={B_ATP_MEAN} sems={B_ATP_SEM} dots={B_ATP_DOTS} groups={MASM7_GROUPS} sigs={B_ATP_SIG} styles={bStyles} title={RESP_TITLES[2]} />

        <RotLabel x={374} y={356} lines={['% OCR normalized to Veh', 'of WT MEFs']} size={10.5} gap={12.5} />
        <BarSub L={LD[0]} means={D_BASAL_MEAN} sems={D_BASAL_SEM} dots={D_BASAL_DOTS} groups={MFI8_GROUPS} sigs={D_BASAL_SIG} styles={dStyles} title={RESP_TITLES[0]} />
        <BarSub L={LD[1]} means={D_MAX_MEAN} sems={D_MAX_SEM} dots={D_MAX_DOTS} groups={MFI8_GROUPS} sigs={D_MAX_SIG} styles={dStyles} title={RESP_TITLES[1]} />
        <BarSub L={LD[2]} means={D_ATP_MEAN} sems={D_ATP_SEM} dots={D_ATP_DOTS} groups={MFI8_GROUPS} sigs={D_ATP_SIG} styles={dStyles} title={RESP_TITLES[2]} />

        <DosePanel L={{ axisX: 89, y0: 621, yMin: 80, yTop: 152, yTopPx: 464.4, xEnd: 237, labY: 636, ylabY: 547 }}
          means={E_MEAN} sems={E_SEM} dots={E_DOTS} doses={E_DOSES} ticks={E_TICKS} color={PURPLE} fill={PURPLE_FILL} title="MASM7 (µM)" />
        <DosePanel L={{ axisX: 89, y0: 796, yMin: 0, yTop: 115, yTopPx: 645.4, xEnd: 237, labY: 811, ylabY: 725 }}
          means={F_MEAN} sems={F_SEM} dots={F_DOTS} doses={F_DOSES} ticks={F_TICKS} color={RED} fill={RED_FILL} title="MFI8 (µM)" />

        <NadPanel L={{ axisX: 49, y0: 984, yTopPx: 853.3, xEnd: 118, b0: 3, ylx: 13.5 }}
          means={J_MEAN} sems={J_SEM} dots={J_DOTS} groups={J_GROUPS} color={RED} fill={RED_FILL} shape="circle" sig={{ h: 1.1, t: '*' }} />
        <NadPanel L={{ axisX: 182, y0: 984, yTopPx: 853.3, xEnd: 252, b0: -1, ylx: 142.5 }}
          means={K_MEAN} sems={K_SEM} dots={K_DOTS} groups={K_GROUPS} color={PURPLE} fill={PURPLE_FILL} shape="square" sig={{ h: 1.37, t: 'NS' }} />

        <GeneHeatmap />
        <MetabPanel id="hcb" top={458.3} cbTop={459} cbBot={693.3} vMin={-1.57} vMax={4.29} ticks={H_TICKS} cols={H_COLS} vals={[H_VEH, H_MASM7]} />
        <MetabPanel id="icb" top={743.3} cbTop={744} cbBot={980} vMin={-2.67} vMax={4.33} ticks={I_TICKS} cols={I_COLS} vals={[I_VEH, I_MFI8]} />
      </svg>
    </div>
  );
}
